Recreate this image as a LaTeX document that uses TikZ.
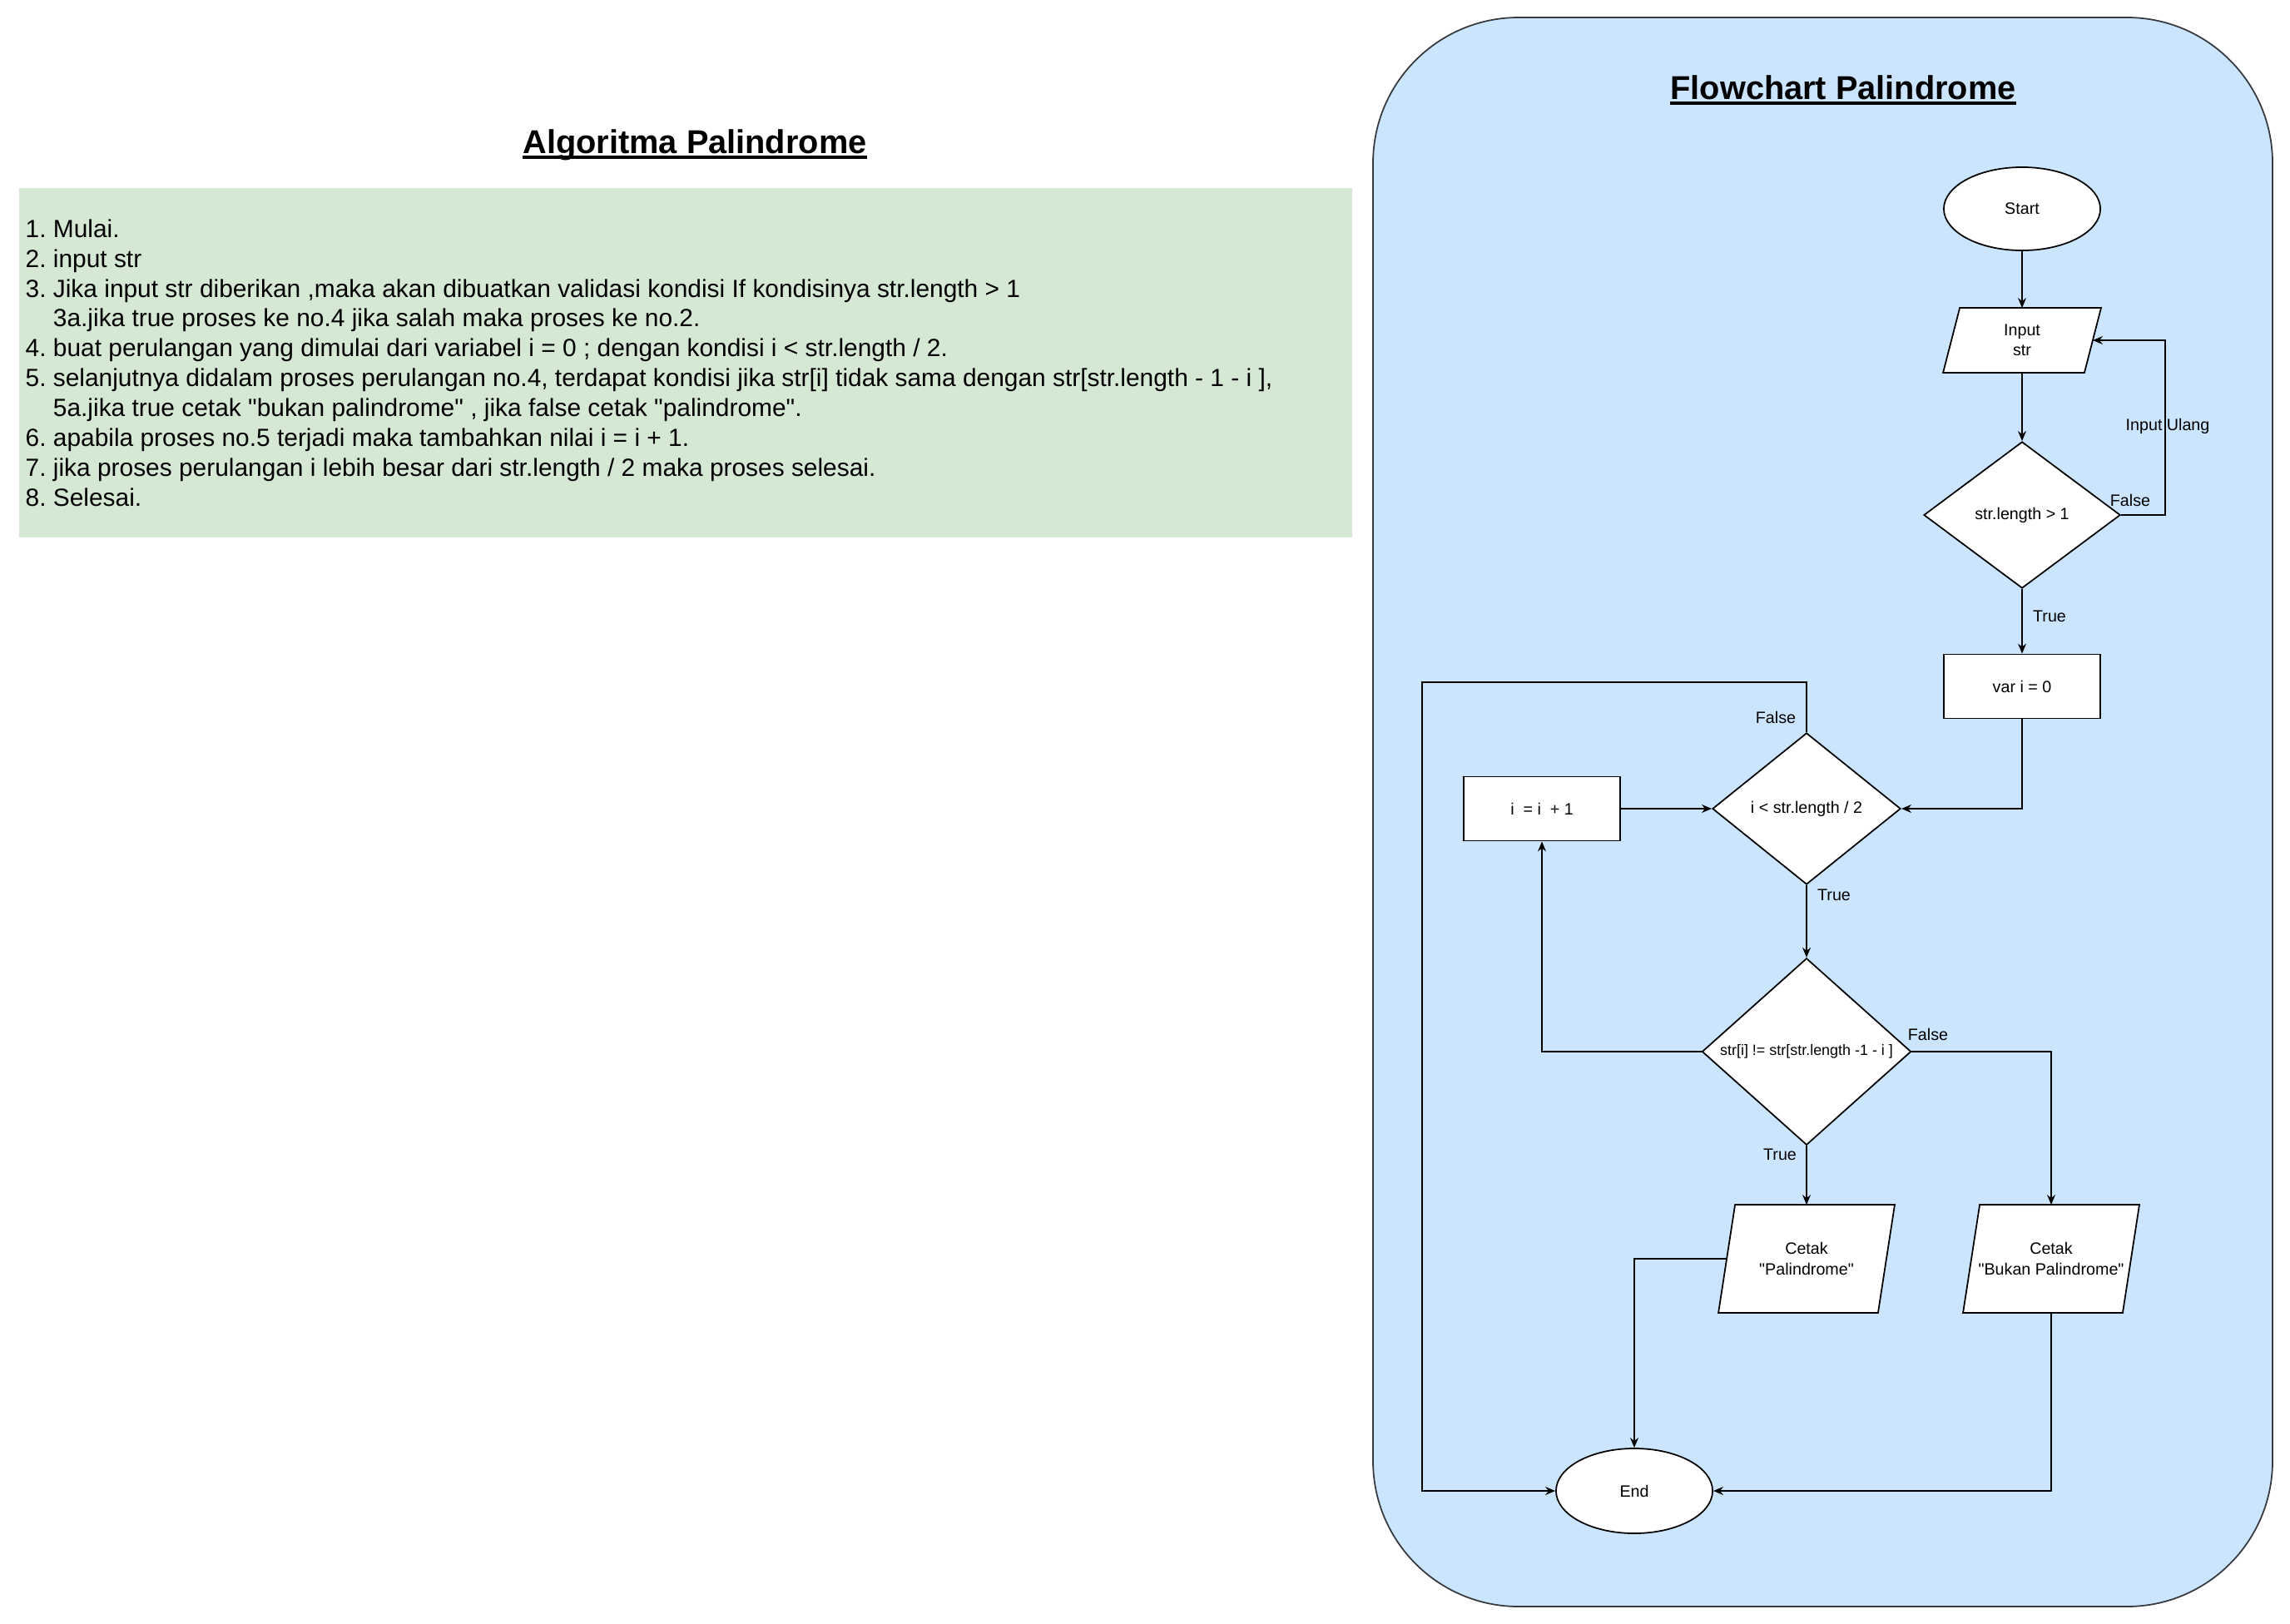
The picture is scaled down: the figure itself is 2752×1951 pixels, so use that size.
\documentclass[tikz,border=0pt]{standalone}
\usepackage{fontspec}
\setmainfont{Liberation Sans}[Ligatures=TeXOff]
\usetikzlibrary{shapes.geometric,arrows.meta,backgrounds}
\definecolor{stepgreen}{HTML}{D5E8D4}
\definecolor{flowblue}{HTML}{CCE5FF}
\definecolor{flowedge}{HTML}{36393D}
\frenchspacing
\tikzset{
  flow/.style={draw=black,fill=white,line width=0.5pt,font=\fontsize{5.6}{6.9}\selectfont,align=center,inner sep=0pt},
  term/.style={flow,ellipse,minimum width=1.88cm},
  proc/.style={flow,rectangle,minimum width=1.88cm,minimum height=0.77cm},
  cond/.style={flow,diamond},
  io/.style={flow,rectangle,draw=none,fill=none},
  arr/.style={line width=0.5pt,-{Stealth[length=3.4pt,width=2.8pt]}},
  lbl/.style={font=\fontsize{5.6}{6.9}\selectfont,inner sep=0pt},
  ttl/.style={font=\fontsize{11.3}{13}\selectfont\bfseries,inner sep=0pt,anchor=base},
  uline/.style={line width=1.1pt}
}
\newcommand{\ioshape}[2]{\filldraw[fill=white,line width=0.5pt] ([xshift=#2]#1.north west) -- ([xshift=#2]#1.north east) -- ([xshift=-#2]#1.south east) -- ([xshift=-#2]#1.south west) -- cycle;}
\begin{document}
\begin{tikzpicture}[x=0.01cm,y=-0.01cm]
  \useasboundingbox (0,0) rectangle (2752,1951);
  \begin{scope}[on background layer]
    \fill[stepgreen] (23,226) rectangle (1625,646);
    \filldraw[fill=flowblue,draw=flowedge,line width=0.5pt,rounded corners=1.75cm] (1650,21) rectangle (2731,1931);
  \end{scope}

  \node[ttl] (algtitle) at (835,184) {Algoritma Palindrome};
  \draw[uline] ([yshift=-1.4pt]algtitle.base west) -- ([yshift=-1.4pt]algtitle.base east);
  \node[anchor=west,align=left,inner sep=0pt,font=\fontsize{8.5}{10.2}\selectfont] (steps) at (30,436) {1. Mulai.\\
    2. input str\\
    3. Jika input str diberikan ,maka akan dibuatkan validasi kondisi If kondisinya str.length > 1\\
    \hphantom{3. }3a.jika true proses ke no.4 jika salah maka proses ke no.2.\\
    4. buat perulangan yang dimulai dari variabel i = 0 ; dengan kondisi i < str.length / 2.\\
    5. selanjutnya didalam proses perulangan no.4, terdapat kondisi jika str[i] tidak sama dengan str[str.length - 1 - i ],\\
    \hphantom{5. }5a.jika true cetak "bukan palindrome" , jika false cetak "palindrome".\\
    6. apabila proses no.5 terjadi maka tambahkan nilai i = i + 1.\\
    7. jika proses perulangan i lebih besar dari str.length / 2 maka proses selesai.\\
    8. Selesai.};

  \node[ttl] (flowtitle) at (2215,119) {Flowchart Palindrome};
  \draw[uline] ([yshift=-1.4pt]flowtitle.base west) -- ([yshift=-1.4pt]flowtitle.base east);
  \node[term,minimum height=1cm] (start) at (2430,251) {Start};
  \node[io,minimum width=1.68cm,minimum height=0.76cm] (inp) at (2430,409) {Input\\str};
  \node[cond,minimum width=2.36cm,minimum height=1.76cm] (d1) at (2430,619) {str.length > 1};
  \node[proc] (var) at (2430,825) {var i = 0};
  \node[cond,minimum width=2.26cm,minimum height=1.82cm] (d2) at (2171,972) {i < str.length / 2};
  \node[proc] (inc) at (1853,972) {i\ \ = i\ \ + 1};
  \node[cond,minimum width=2.51cm,minimum height=2.05cm,font=\fontsize{5.1}{6}\selectfont] (d3) at (2171,1264) {str[i] != str[str.length -1 - i ]};
  \node[io,minimum width=1.9cm,minimum height=1.28cm] (cpal) at (2171,1513) {Cetak\\"Palindrome"};
  \node[io,minimum width=1.9cm,minimum height=1.28cm] (cbuk) at (2465,1513) {Cetak\\"Bukan Palindrome"};
  \node[term,minimum height=1.02cm] (end) at (1964,1792) {End};
  \begin{scope}[on background layer]
    \ioshape{inp}{0.1cm}
    \ioshape{cpal}{0.1cm}
    \ioshape{cbuk}{0.1cm}
  \end{scope}

  \coordinate (backl) at (1709,820);
  \draw[arr] (start) -- (inp);
  \draw[arr] (inp) -- (d1);
  \draw[arr] (d1.east) -- ++(53,0) |- (inp.east);
  \draw[arr] (d1) -- (var);
  \draw[arr] (var.south) |- (d2.east);
  \draw[arr] (inc) -- (d2);
  \draw[arr] (d2.north) |- (backl) |- (end.west);
  \draw[arr] (d2) -- (d3);
  \draw[arr] (d3.west) -| (inc.south);
  \draw[arr] (d3.east) -| (cbuk.north);
  \draw[arr] (d3) -- (cpal);
  \draw[arr] (cpal.west) -| (end.north);
  \draw[arr] (cbuk.south) |- (end.east);

  \node[lbl] (f1) at (2560,601) {False};
  \node[lbl] (again) at (2605,512) {Input Ulang};
  \node[lbl] (t1) at (2463,741) {True};
  \node[lbl] (f2) at (2134,862) {False};
  \node[lbl] (t2) at (2204,1076) {True};
  \node[lbl] (f3) at (2317,1243) {False};
  \node[lbl] (t3) at (2139,1388) {True};
\end{tikzpicture}
\end{document}
